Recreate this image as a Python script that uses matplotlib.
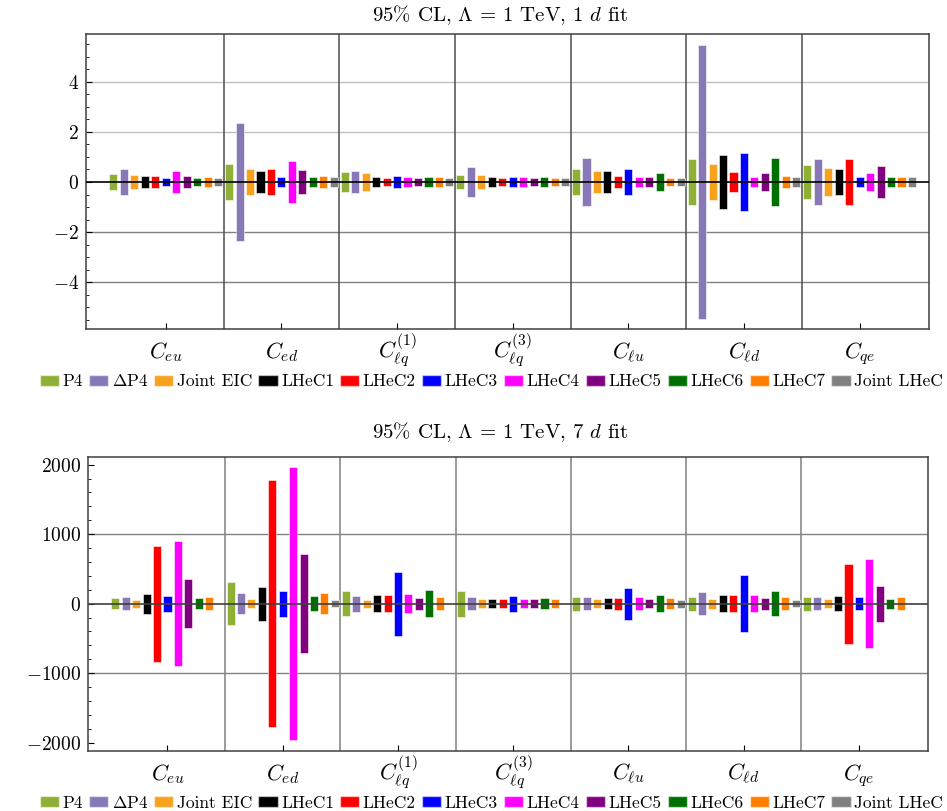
import numpy as np
import matplotlib
matplotlib.use('Agg')
import matplotlib.pyplot as plt
from matplotlib.patches import Patch
from matplotlib.ticker import MultipleLocator

plt.rcParams['font.family'] = 'serif'
plt.rcParams['font.serif'] = ['cmr10']
plt.rcParams['mathtext.fontset'] = 'cm'
plt.rcParams['axes.formatter.use_mathtext'] = True
plt.rcParams['axes.unicode_minus'] = True

# operators (groups on the x axis)
operators = [r'$C_{eu}$', r'$C_{ed}$', r'$C_{\ell q}^{(1)}$', r'$C_{\ell q}^{(3)}$',
             r'$C_{\ell u}$', r'$C_{\ell d}$', r'$C_{qe}$']

# data sets (one bar per data set in every group)
datasets = ['P4', r'$\Delta$P4', 'Joint EIC', 'LHeC1', 'LHeC2', 'LHeC3',
            'LHeC4', 'LHeC5', 'LHeC6', 'LHeC7', 'Joint LHeC']
colors = ['#8eb035', '#8878b8', '#f7a11c', '#000000', '#ff0000', '#0000ff',
          '#ff00ff', '#800080', '#007000', '#ff8000', '#808080']

# 95% CL half widths, 1d fit (one list per data set, entries follow operators)
p4_1d       = [0.32, 0.71, 0.40, 0.29, 0.52, 0.92, 0.67]
dp4_1d      = [0.51, 2.34, 0.45, 0.60, 0.97, 5.48, 0.91]
eic_1d      = [0.28, 0.51, 0.35, 0.27, 0.44, 0.73, 0.56]
lhec1_1d    = [0.23, 0.45, 0.21, 0.20, 0.43, 1.09, 0.53]
lhec2_1d    = [0.24, 0.52, 0.17, 0.16, 0.24, 0.40, 0.91]
lhec3_1d    = [0.17, 0.20, 0.24, 0.20, 0.52, 1.17, 0.21]
lhec4_1d    = [0.44, 0.85, 0.20, 0.19, 0.19, 0.21, 0.36]
lhec5_1d    = [0.23, 0.48, 0.17, 0.17, 0.19, 0.35, 0.65]
lhec6_1d    = [0.17, 0.20, 0.20, 0.19, 0.36, 0.95, 0.20]
lhec7_1d    = [0.20, 0.24, 0.19, 0.17, 0.17, 0.24, 0.20]
jlhec_1d    = [0.16, 0.19, 0.16, 0.16, 0.17, 0.20, 0.19]

# 95% CL half widths, 7d fit (nan = not shown)
p4_7d       = [80, 305, 180, 185, 103, 100, 103]
dp4_7d      = [98, 150, 113, 94, 96, 163, 91]
eic_7d      = [58, 62, 58, 62, 62, 70, 62]
lhec1_7d    = [146, 247, 122, 64, 82, 122, 112]
lhec2_7d    = [836, 1779, 122, 62, 87, 118, 574]
lhec3_7d    = [115, 185, 459, 113, 228, 406, 98]
lhec4_7d    = [896, 1960, 135, 67, 91, 122, 641]
lhec5_7d    = [353, 716, 84, 62, 67, 84, 257]
lhec6_7d    = [80, 105, 199, 77, 118, 180, 72]
lhec7_7d    = [96, 152, 94, 62, 75, 89, 89]
jlhec_7d    = [np.nan, 50, np.nan, np.nan, 58, 55, np.nan]

fit_1d = [p4_1d, dp4_1d, eic_1d, lhec1_1d, lhec2_1d, lhec3_1d,
          lhec4_1d, lhec5_1d, lhec6_1d, lhec7_1d, jlhec_1d]
fit_7d = [p4_7d, dp4_7d, eic_7d, lhec1_7d, lhec2_7d, lhec3_7d,
          lhec4_7d, lhec5_7d, lhec6_7d, lhec7_7d, jlhec_7d]

fig = plt.figure(figsize=(9.47, 8.11), dpi=100)
ax1 = fig.add_axes([0.0908, 0.5944, 0.8902, 0.3636])
ax2 = fig.add_axes([0.0929, 0.0744, 0.8871, 0.3625])

step = 0.0905
width = 0.07
x = np.arange(len(operators))


def draw(ax, data, ylim, grid_lines, grid_cols, major, minor, div_col, zero_col):
    for k, vals in enumerate(data):
        v = np.array(vals, dtype=float)
        ax.bar(x + (k - 5) * step, 2 * v, bottom=-v, width=width,
               color=colors[k], edgecolor=(1, 1, 1, 0.55), linewidth=0.7, zorder=3)
    for g, c in zip(grid_lines, grid_cols):
        ax.axhline(g, color=c, lw=1.0, zorder=1)
    for d in x[:-1] + 0.5:
        ax.axvline(d, color=div_col, lw=1.1, zorder=1)
    ax.axhline(0, color=zero_col, lw=1.2, zorder=4)
    ax.set_xlim(-0.69, 6.6)
    ax.set_ylim(*ylim)
    ax.set_xticks(x)
    ax.set_xticklabels(operators, fontsize=16)
    # put all C's on one baseline, superscripts stick out above
    for lab in ax.get_xticklabels():
        lab.set_verticalalignment('baseline')
    ax.yaxis.set_major_locator(MultipleLocator(major))
    ax.yaxis.set_minor_locator(MultipleLocator(minor))
    ax.tick_params(axis='y', which='major', direction='in', length=4, labelsize=14, pad=5)
    ax.tick_params(axis='y', which='minor', direction='in', length=2.5)
    ax.tick_params(axis='x', which='major', direction='in', length=4, pad=21)
    for s in ax.spines.values():
        s.set_color('0.25')
        s.set_linewidth(1.1)


draw(ax1, fit_1d, (-5.86, 5.9), [-4, -2, 2, 4], ['0.5', '0.5', '0.75', '0.75'],
     2, 0.5, '0.3', 'black')
draw(ax2, fit_7d, (-2115, 2115), [-1000, 1000], ['0.5', '0.5'],
     1000, 200, '0.5', '0.25')

fig.text(0.528, 0.981, r'95% CL, $\Lambda$ = 1 TeV, 1 $d$ fit', ha='center', va='center', fontsize=15)
fig.text(0.528, 0.467, r'95% CL, $\Lambda$ = 1 TeV, 7 $d$ fit', ha='center', va='center', fontsize=15)

handles = [Patch(facecolor=c, edgecolor=(1, 1, 1, 0.5)) for c in colors]
for y in [0.530, 0.010]:
    fig.legend(handles, datasets, ncol=11, loc='center left', bbox_to_anchor=(0.042, y),
               frameon=False, fontsize=12.5, handlelength=1.1, handleheight=0.6,
               handletextpad=0.2, columnspacing=0.36, borderpad=0, borderaxespad=0)

fig.savefig('out.png', dpi=100)
